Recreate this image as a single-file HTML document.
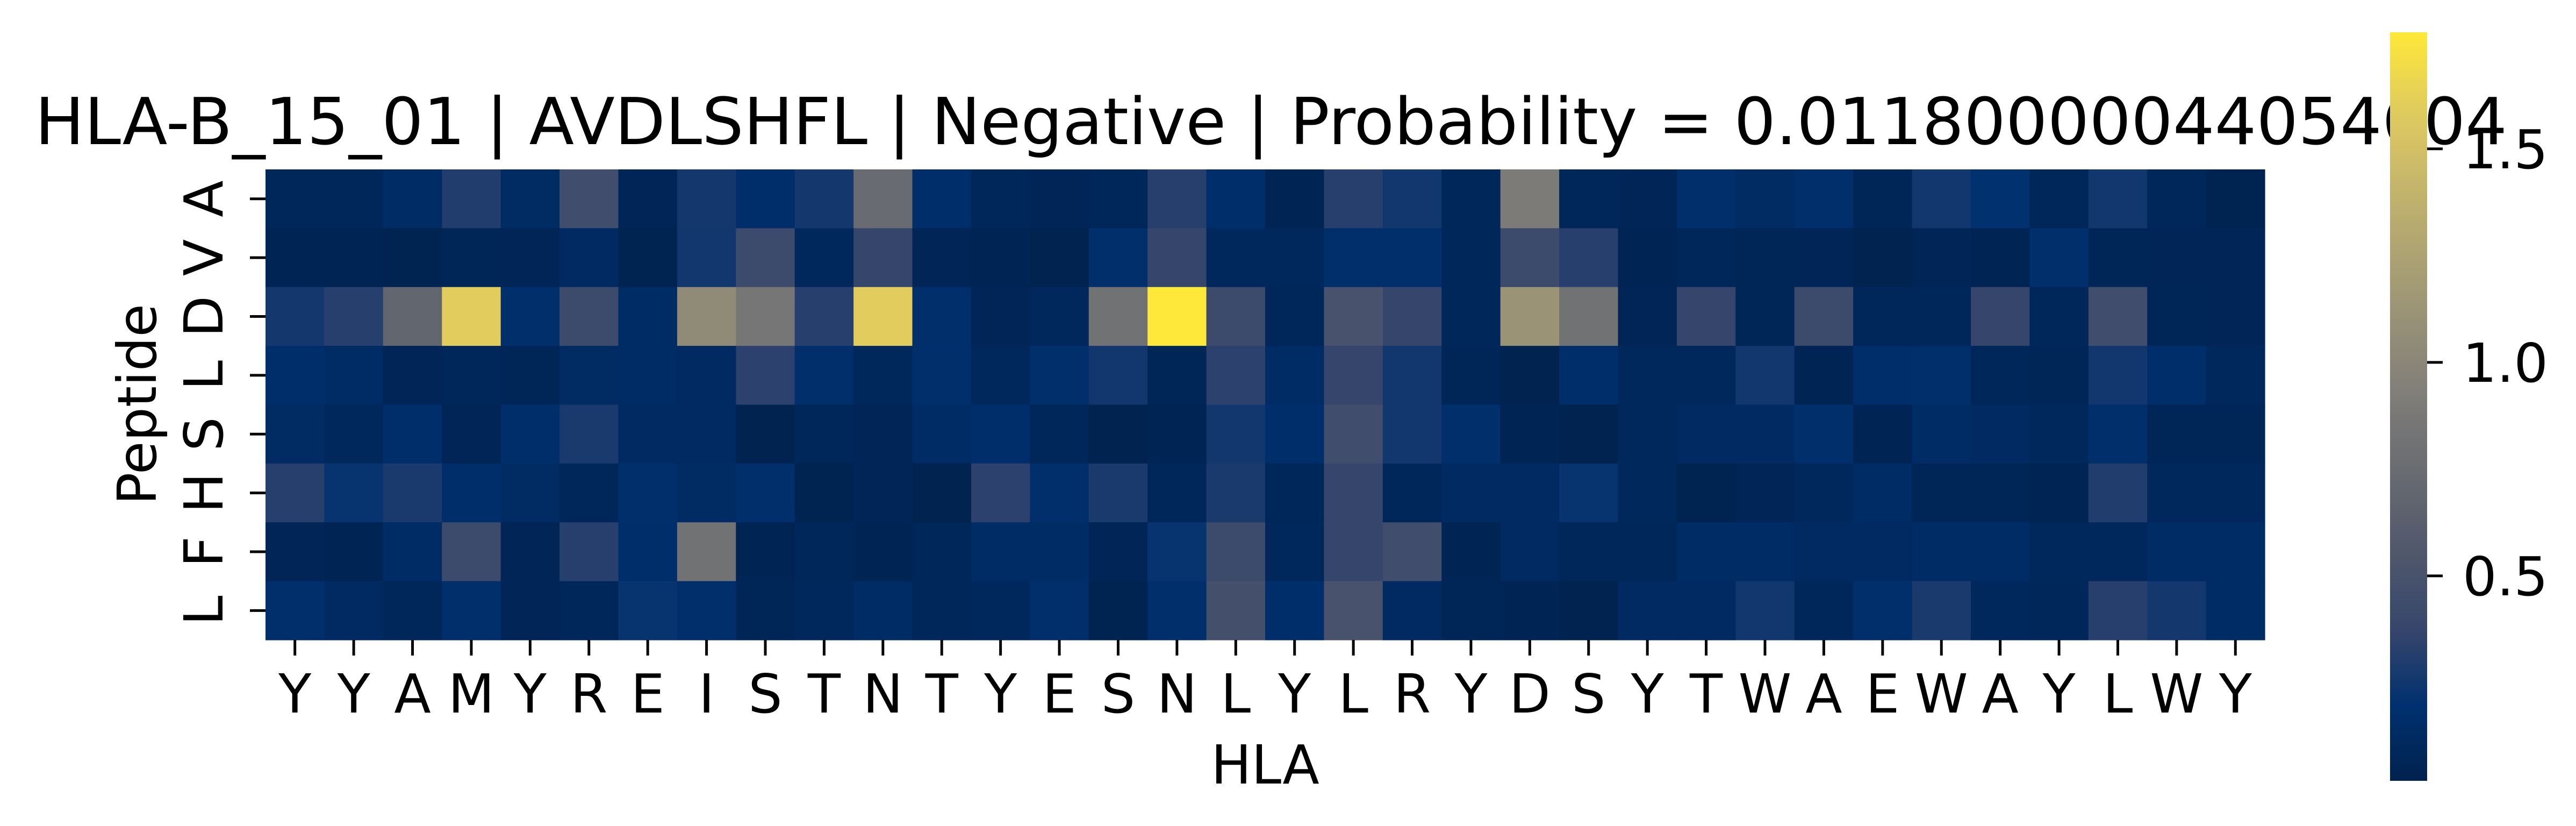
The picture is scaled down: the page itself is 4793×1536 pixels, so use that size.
<!DOCTYPE html>
<html><head><meta charset="utf-8"><style>
html,body{margin:0;padding:0;background:#fff;}
svg{display:block;font-family:"DejaVu Sans","Liberation Sans",sans-serif;}
</style></head><body>
<svg id="chart" width="4793" height="1536" viewBox="0 0 4793 1536" xmlns="http://www.w3.org/2000/svg">
<defs><linearGradient id="cbgrad" x1="0" y1="1" x2="0" y2="0"></linearGradient></defs>
<text x="2365" y="268" font-size="120" text-anchor="middle" textLength="4600" lengthAdjust="spacingAndGlyphs">HLA-B_15_01 | AVDLSHFL | Negative | Probability = 0.011800000440546​04</text>
<g id="cells"></g>
<g id="xticks"></g>
<g id="yticks"></g>
<text x="2354" y="1457" font-size="100" text-anchor="middle">HLA</text>
<text transform="translate(290,752) rotate(-90)" font-size="100" text-anchor="middle">Peptide</text>
<rect id="cbar" x="4447" y="60" width="69" height="1392" fill="url(#cbgrad)"/>
<g id="cbticks"></g>
</svg>
<script>
const hlaLabels = ["Y","Y","A","M","Y","R","E","I","S","T","N","T","Y","E","S","N","L","Y","L","R","Y","D","S","Y","T","W","A","E","W","A","Y","L","W","Y"];
const peptideLabels = ["A","V","D","L","S","H","F","L"];
const rowA = [0.08,0.08,0.15,0.30,0.13,0.45,0.06,0.26,0.17,0.26,0.74,0.17,0.08,0.06,0.08,0.32,0.17,0.05,0.32,0.25,0.08,0.90,0.08,0.06,0.18,0.13,0.18,0.07,0.25,0.2,0.08,0.25,0.08,0.04];
const rowV = [0.05,0.05,0.04,0.07,0.06,0.12,0.04,0.25,0.42,0.1,0.37,0.06,0.05,0.03,0.18,0.37,0.1,0.1,0.18,0.18,0.08,0.42,0.32,0.05,0.08,0.07,0.06,0.03,0.06,0.05,0.18,0.07,0.06,0.06];
const rowD = [0.26,0.32,0.69,1.6,0.18,0.42,0.15,1.04,0.85,0.32,1.6,0.18,0.06,0.1,0.81,1.77,0.42,0.08,0.5,0.37,0.08,1.12,0.81,0.06,0.37,0.07,0.42,0.08,0.08,0.37,0.08,0.45,0.07,0.06];
const rowL1 = [0.17,0.15,0.06,0.08,0.07,0.13,0.15,0.12,0.34,0.18,0.09,0.18,0.1,0.18,0.25,0.07,0.34,0.15,0.37,0.25,0.07,0.03,0.17,0.1,0.1,0.25,0.05,0.17,0.18,0.08,0.07,0.25,0.17,0.1];
const rowS = [0.13,0.1,0.17,0.06,0.17,0.28,0.12,0.12,0.03,0.08,0.06,0.15,0.17,0.08,0.03,0.05,0.25,0.17,0.45,0.25,0.18,0.05,0.03,0.1,0.12,0.12,0.18,0.05,0.15,0.12,0.1,0.18,0.07,0.07];
const rowH = [0.32,0.22,0.28,0.17,0.13,0.08,0.18,0.13,0.18,0.04,0.06,0.03,0.34,0.18,0.28,0.08,0.28,0.08,0.37,0.08,0.12,0.12,0.22,0.1,0.04,0.06,0.1,0.15,0.07,0.07,0.05,0.3,0.1,0.1];
const rowF = [0.06,0.05,0.15,0.42,0.06,0.32,0.17,0.81,0.05,0.08,0.05,0.08,0.15,0.15,0.06,0.22,0.42,0.1,0.37,0.45,0.05,0.12,0.08,0.08,0.14,0.14,0.12,0.12,0.14,0.14,0.1,0.1,0.15,0.15];
const rowL2 = [0.18,0.12,0.08,0.18,0.06,0.08,0.22,0.18,0.07,0.1,0.15,0.08,0.1,0.18,0.04,0.18,0.47,0.17,0.5,0.12,0.07,0.05,0.03,0.12,0.12,0.25,0.08,0.18,0.28,0.1,0.08,0.32,0.26,0.14];
const matrix = [rowA,rowV,rowD,rowL1,rowS,rowH,rowF,rowL2];
const vmin = 0.02, vmax = 1.773;
const cbTicks = [0.5,1.0,1.5];

const NS="http://www.w3.org/2000/svg";
const X0=494, X1=4214, Y0=315, Y1=1190;
const cw=(X1-X0)/hlaLabels.length, ch=(Y1-Y0)/peptideLabels.length;
const xPos=i=>X0+i*cw, yPos=j=>Y0+j*ch;
const CB0=1452, CB1=60;
const cbY=v=>CB0-(v-vmin)/(vmax-vmin)*(CB0-CB1);
const stops=[[0,34,78],[0,48,111],[53,69,108],[79,87,108],[102,105,112],[124,123,120],[148,142,119],[172,162,115],[198,182,107],[225,204,93],[254,232,56]];
function cmap(v){let t=(v-vmin)/(vmax-vmin);t=Math.max(0,Math.min(1,t));const p=t*10,i=Math.min(9,Math.floor(p)),f=p-i;const a=stops[i],b=stops[i+1];return `rgb(${a.map((c,k)=>Math.round(c+(b[k]-c)*f)).join(",")})`;}
function mk(tag,attrs,parent){const e=document.createElementNS(NS,tag);for(const k in attrs)e.setAttribute(k,attrs[k]);parent.appendChild(e);return e;}
const cells=document.getElementById("cells");
matrix.forEach((row,j)=>row.forEach((v,i)=>{
  const r=mk("rect",{x:xPos(i),y:yPos(j),width:cw+0.6,height:ch+0.6,fill:cmap(v)},cells);
  
  
}));
const xt=document.getElementById("xticks");
hlaLabels.forEach((l,i)=>{
  const cx=xPos(i)+cw/2;
  const t=mk("line",{x1:cx,x2:cx,y1:Y1,y2:Y1+29,stroke:"#000","stroke-width":5},xt);
  
  
  const tx=mk("text",{x:cx,y:1325,"font-size":100,"text-anchor":"middle"},xt);
  tx.textContent=l;
  
  
});
const yt=document.getElementById("yticks");
peptideLabels.forEach((l,j)=>{
  const cy=yPos(j)+ch/2;
  const t=mk("line",{x1:X0-29,x2:X0,y1:cy,y2:cy,stroke:"#000","stroke-width":5},yt);
  
  
  const tx=mk("text",{transform:`translate(414,${cy}) rotate(-90)`,"font-size":100,"text-anchor":"middle"},yt);
  tx.textContent=l;
  
  
});
const g=document.getElementById("cbgrad");
for(let k=0;k<=40;k++){const v=vmin+(vmax-vmin)*k/40;mk("stop",{offset:(k/40),"stop-color":cmap(v)},g);}
const cbt=document.getElementById("cbticks");
cbTicks.forEach(v=>{
  const y=cbY(v);
  const t=mk("line",{x1:4516,x2:4545,y1:y,y2:y,stroke:"#000","stroke-width":5},cbt);
  
  
  const tx=mk("text",{x:4582,y:y+36,"font-size":100},cbt);
  tx.textContent=v.toFixed(1);
  
  
});
</script>
</body></html>
